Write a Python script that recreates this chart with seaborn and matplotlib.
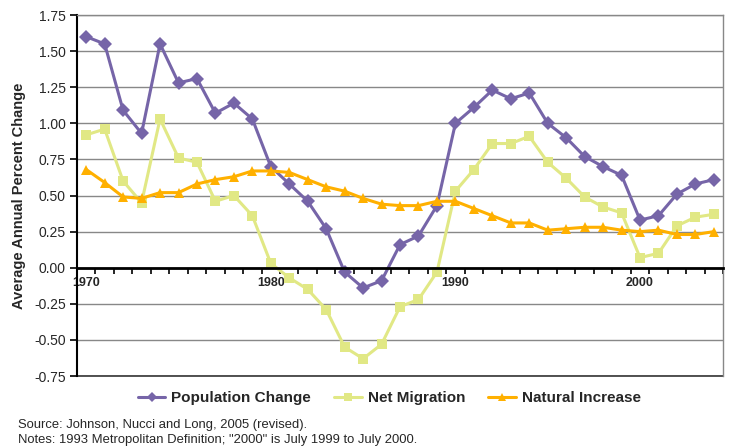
import numpy as np
import pandas as pd
import matplotlib
matplotlib.use('Agg')
import matplotlib.pyplot as plt
import seaborn as sns

sns.set_style('white')
plt.rcParams['font.family'] = ['Liberation Sans', 'DejaVu Sans']

years = list(range(1970, 2005))
population_change = [1.60, 1.55, 1.09, 0.93, 1.55, 1.28, 1.31, 1.07, 1.14, 1.03,
                     0.70, 0.58, 0.46, 0.27, -0.03, -0.14, -0.09, 0.16, 0.22, 0.43,
                     1.00, 1.11, 1.23, 1.17, 1.21, 1.00, 0.90, 0.77, 0.70, 0.64,
                     0.33, 0.36, 0.51, 0.58, 0.61]
net_migration = [0.92, 0.96, 0.60, 0.45, 1.03, 0.76, 0.73, 0.46, 0.50, 0.36,
                 0.03, -0.07, -0.15, -0.29, -0.55, -0.63, -0.53, -0.27, -0.22, -0.03,
                 0.53, 0.68, 0.86, 0.86, 0.91, 0.73, 0.62, 0.49, 0.42, 0.38,
                 0.07, 0.10, 0.29, 0.35, 0.37]
natural_increase = [0.68, 0.59, 0.49, 0.48, 0.52, 0.52, 0.58, 0.61, 0.63, 0.67,
                    0.67, 0.66, 0.61, 0.56, 0.53, 0.48, 0.44, 0.43, 0.43, 0.46,
                    0.46, 0.41, 0.36, 0.31, 0.31, 0.26, 0.27, 0.28, 0.28, 0.26,
                    0.25, 0.26, 0.23, 0.23, 0.25]
series_names = ['Population Change', 'Net Migration', 'Natural Increase']
colors = ['#7665A8', '#E1E885', '#FFB000']
markers = ['D', 's', '^']
y_ticks = [-0.75, -0.5, -0.25, 0.0, 0.25, 0.5, 0.75, 1.0, 1.25, 1.5, 1.75]
label_years = [1970, 1980, 1990, 2000]

df = pd.DataFrame({
    'Year': years * 3,
    'Value': population_change + net_migration + natural_increase,
    'Series': sum([[n] * len(years) for n in series_names], []),
})

fig = plt.figure(figsize=(7.33, 4.48), dpi=100)
ax = fig.add_axes([0.105, 0.1607, 0.8815, 0.8058])

sns.lineplot(data=df, x='Year', y='Value', hue='Series', style='Series',
             palette=dict(zip(series_names, colors)),
             markers=dict(zip(series_names, markers)),
             dashes=False, linewidth=2.2, markersize=7, markeredgewidth=0,
             ax=ax, legend=True)

ax.set_xlim(1969.5, 2004.5)
ax.set_ylim(-0.75, 1.75)

# y axis
ax.set_yticks(y_ticks)
ax.set_yticklabels(['%.2f' % v for v in y_ticks], fontsize=10)
ax.yaxis.grid(True, color='#888888', linewidth=1.0)
ax.tick_params(axis='y', direction='out', length=5, width=1.2, color='black',
               left=True, pad=3)
ax.set_ylabel('Average Annual Percent Change', fontsize=10.5, fontweight='bold',
              labelpad=6)

# x axis crossing at zero
ax.spines['bottom'].set_position(('data', 0))
ax.spines['bottom'].set_linewidth(2)
ax.spines['bottom'].set_color('black')
ax.spines['left'].set_color('black')
ax.spines['left'].set_linewidth(1.5)
for s in ['top', 'right']:
    ax.spines[s].set_color('#888888')
    ax.spines[s].set_linewidth(1.0)
ax.axhline(-0.75, color='#333333', linewidth=1.2, clip_on=False)

ax.set_xticks(label_years)
ax.set_xticklabels([str(y) for y in label_years], fontsize=9, fontweight='bold')
ax.set_xticks(np.arange(1969.5, 2005, 1.0), minor=True)
ax.tick_params(axis='x', which='major', length=0, pad=7)
ax.tick_params(axis='x', which='minor', direction='out', length=4, width=1.2,
               color='black', bottom=True)
ax.set_xlabel('')

handles, labels = ax.get_legend_handles_labels()
ax.legend(handles, labels, loc='center', bbox_to_anchor=(0.531, 0.111),
          bbox_transform=fig.transFigure, ncol=3, frameon=False,
          prop={'size': 11, 'weight': 'bold'}, handlelength=1.8,
          columnspacing=1.5, handletextpad=0.4, markerscale=0.8)

fig.text(0.0246, 0.0513, 'Source: Johnson, Nucci and Long, 2005 (revised).',
         fontsize=9.4, va='center')
fig.text(0.0246, 0.0179, 'Notes: 1993 Metropolitan Definition; "2000" is July 1999 to July 2000.',
         fontsize=9.4, va='center')

fig.savefig('out.png', dpi=100)
